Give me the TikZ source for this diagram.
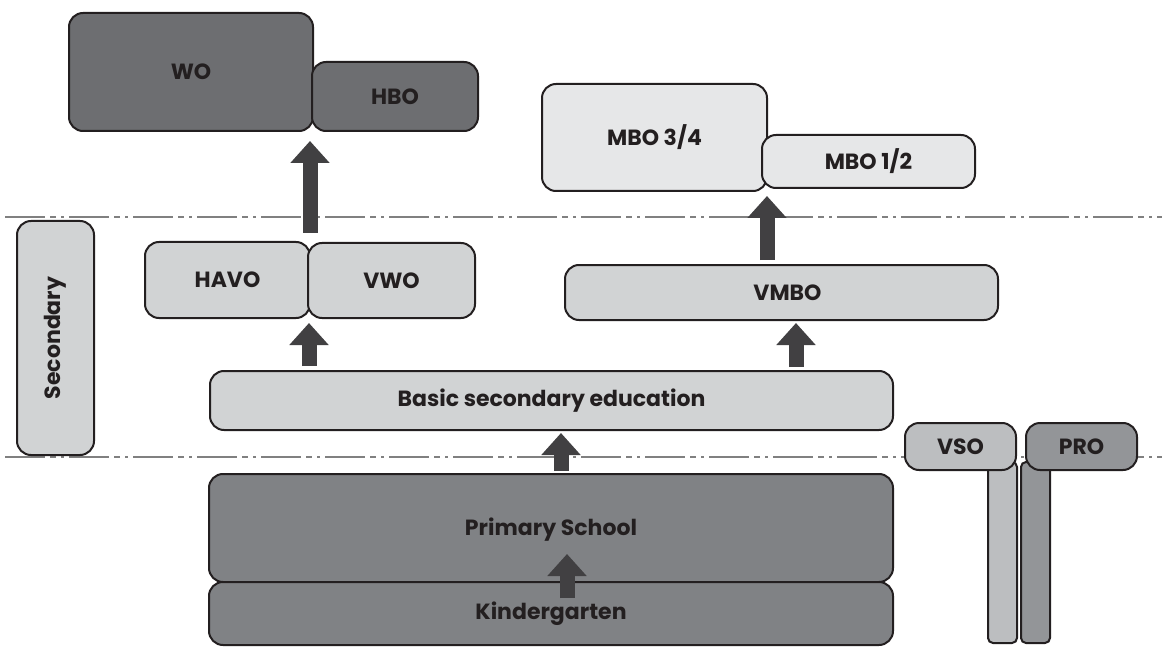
\documentclass[tikz,border=0pt]{standalone}
\usepackage{fontspec}
\setmainfont{Poppins}
\usetikzlibrary{arrows.meta,calc}
\definecolor{ink}{HTML}{231F20}
\definecolor{darkbox}{HTML}{6D6E71}
\definecolor{midbox}{HTML}{808285}
\definecolor{lightbox}{HTML}{D1D3D4}
\definecolor{paler}{HTML}{E6E7E8}
\definecolor{vsoc}{HTML}{BCBEC0}
\definecolor{proc}{HTML}{939598}
\definecolor{arrowc}{HTML}{414042}
\definecolor{sepc}{HTML}{808080}
\begin{document}
\begin{tikzpicture}[x=1pt,y=-1pt,
  lbl/.style={text=ink, font=\fontsize{22}{22}\selectfont\bfseries},
  box/.style={draw=ink, line width=2pt, rounded corners=14pt, inner sep=0pt, lbl},
  bar/.style={draw=ink, line width=2pt, rounded corners=5pt, inner sep=0pt},
  uparrow/.style={draw=arrowc, line width=15pt, -{Triangle[width=38pt,length=22pt]}},
  sepline/.style={draw=sepc, line width=1.5pt, dash pattern=on 40pt off 5pt on 6pt off 5pt on 3pt off 5pt}]
\useasboundingbox (0,0) rectangle (1162,647);
% separator lines
\coordinate (s1a) at (5,217); \coordinate (s1b) at (1162,217);
\coordinate (s2a) at (5,457); \coordinate (s2b) at (1162,457);
\draw[sepline] (s1a) -- (s1b);
\draw[sepline] (s2a) -- (s2b);
% boxes
\node[box, fill=darkbox, minimum width=244pt, minimum height=118pt] (wo) at (191,72) {WO};
\node[box, fill=darkbox, minimum width=166pt, minimum height=69pt] (hbo) at (395,96.5) {HBO};
\node[box, fill=paler, minimum width=225pt, minimum height=107pt] (mbo34) at (654.5,137.5) {MBO 3/4};
\node[box, fill=paler, minimum width=213pt, minimum height=53pt] (mbo12) at (868.5,161.5) {MBO 1/2};
\node[box, fill=lightbox, minimum width=77pt, minimum height=234pt] (sec) at (55.5,338) {};
\node[lbl, rotate=90] (sectxt) at (sec.center) {Secondary};
\node[box, fill=lightbox, minimum width=165pt, minimum height=76pt] (havo) at (227.5,280) {HAVO};
\node[box, fill=lightbox, minimum width=167pt, minimum height=75pt] (vwo) at (391.5,280.5) {VWO};
\node[box, fill=lightbox, minimum width=433pt, minimum height=55pt] (vmbo) at (781.5,292.5) {};
\node[lbl] (vmbotxt) at ([xshift=6pt]vmbo.center) {VMBO};
\node[box, fill=lightbox, minimum width=683pt, minimum height=59pt] (basic) at (551.5,400.5) {Basic secondary education};
\node[box, fill=midbox, minimum width=684pt, minimum height=108pt] (primary) at (551,528) {};
\node[lbl] (primtxt) at (551,530) {Primary School};
\node[box, fill=midbox, minimum width=684pt, minimum height=63pt] (kinder) at (551,613.5) {Kindergarten};
\node[bar, fill=vsoc, minimum width=29pt, minimum height=181pt] (vsobar) at (1002.5,552.5) {};
\node[bar, fill=proc, minimum width=29pt, minimum height=181pt] (probar) at (1035.5,552.5) {};
\node[box, fill=vsoc, minimum width=111pt, minimum height=47pt] (vso) at (960.5,446.5) {VSO};
\node[box, fill=proc, minimum width=111pt, minimum height=47pt] (pro) at (1081.5,446.5) {PRO};
% arrows
\coordinate (a1) at (310,233);
\draw[uparrow, shorten >=9pt] (a1) -- (a1 |- wo.south);
\coordinate (a2) at (309,366);
\draw[uparrow, shorten >=4pt] (a2) -- (a2 |- havo.south);
\coordinate (a3) at (796,367);
\draw[uparrow, shorten >=2pt] (a3) -- (a3 |- vmbo.south);
\coordinate (a4) at (767,260);
\draw[uparrow, shorten >=4pt] (a4) -- (a4 |- mbo34.south);
\coordinate (a5) at (561,471);
\draw[uparrow, shorten >=2pt] (a5) -- (a5 |- basic.south);
\coordinate (a6) at (567,598);
\coordinate (a6t) at (567,554);
\draw[uparrow] (a6) -- (a6t);
\end{tikzpicture}
\end{document}
